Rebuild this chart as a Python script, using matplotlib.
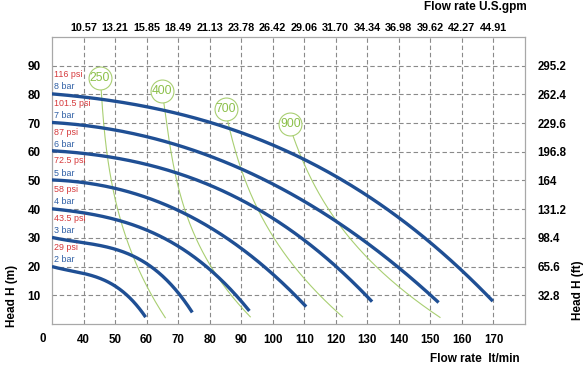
import numpy as np
import matplotlib
matplotlib.use("Agg")
import matplotlib.pyplot as plt

plt.rcParams['font.family'] = ['Liberation Sans', 'DejaVu Sans']

# Curvas de presión (flujo l/min, altura m)
bar_labels = ['2 bar', '3 bar', '4 bar', '5 bar', '6 bar', '7 bar', '8 bar']
psi_labels = ['29 psi', '43.5 psi', '58 psi', '72.5 psi', '87 psi', '101.5 psi', '116 psi']
start_head = [20, 30, 40, 50, 60, 70, 80]

q_2bar = [30, 40, 50, 55, 59.7]
h_2bar = [20, 17.7, 13, 9, 2.3]
q_3bar = [30, 40, 50, 60, 70, 74.5]
h_3bar = [30, 28.8, 25.8, 20.5, 12, 3.4]
q_4bar = [30, 40, 50, 60, 70, 80, 90, 92.6]
h_4bar = [40, 39, 36.5, 32.5, 27, 19, 9, 3.7]
q_5bar = [30, 40, 50, 60, 70, 80, 90, 100, 110.6]
h_5bar = [50, 49.5, 47.5, 44, 39.3, 33.5, 26.5, 17.8, 5.8]
q_6bar = [30, 40, 50, 60, 70, 80, 90, 100, 110, 120, 131.5]
h_6bar = [60, 59.7, 58.3, 55.8, 52.3, 48, 42.8, 36.7, 29.5, 21, 7.2]
q_7bar = [30, 40, 50, 60, 70, 80, 90, 100, 110, 120, 130, 140, 152.6]
h_7bar = [70, 69.3, 67.8, 65.5, 62.3, 58.4, 53.8, 48.5, 42.6, 36, 28.5, 19.8, 7.2]
q_8bar = [30, 40, 50, 60, 70, 80, 90, 100, 110, 120, 130, 140, 150, 160, 169.8]
h_8bar = [80, 79.2, 77.8, 75.8, 73.2, 70.2, 66.6, 62.3, 57.3, 51.5, 44.8, 37, 28.3, 18.8, 7.8]

# Curvas de consumo de aire (verde)
air_labels = ['250', '400', '700', '900']
air_label_pos = [(45.2, 85.7), (64.9, 81.2), (85.2, 74.9), (105.6, 69.7)]
q_250 = [45.6, 47.2, 49.5, 53.5, 60, 65.9]
h_250 = [81.5, 62, 46, 30, 13.5, 2.2]
q_400 = [65.3, 67.8, 70.1, 75.5, 80, 84.4, 92.9]
h_400 = [78, 61, 46.5, 30, 21.5, 13.2, 2.5]
q_700 = [85.5, 88, 90.2, 93, 96.5, 100.3, 107.7, 113, 122]
h_700 = [71, 62, 53.7, 45, 37, 29.9, 19, 12.5, 2.5]
q_900 = [106.1, 109.8, 114.5, 119, 124.6, 130, 135.2, 140.3, 146, 153]
h_900 = [66, 57, 46, 37.5, 29.3, 23, 17.7, 13.2, 7.5, 2.3]

# Ejes
x_ticks = [40, 50, 60, 70, 80, 90, 100, 110, 120, 130, 140, 150, 160, 170]
gpm_labels = ['10.57', '13.21', '15.85', '18.49', '21.13', '23.78', '26.42',
              '29.06', '31.70', '34.34', '36.98', '39.62', '42.27', '44.91']
y_ticks = [10, 20, 30, 40, 50, 60, 70, 80, 90]
ft_labels = ['32.8', '65.6', '98.4', '131.2', '164', '196.8', '229.6', '262.4', '295.2']

blue = '#1f4f94'
green = '#a9cf72'
green_txt = '#8cc04a'
red = '#d6393b'
lbl_blue = '#2f5fa5'


def suave_h(q, h, grado=3):
    # curva suave H(Q) ajustada a los puntos leídos
    c = np.polyfit(q, h, grado)
    qq = np.linspace(q[0], q[-1], 200)
    return qq, np.polyval(c, qq)


def suave_q(q, h, grado=3):
    # las verdes son casi verticales arriba: Q en función de H
    c = np.polyfit(h, q, grado)
    hh = np.linspace(h[0], h[-1], 200)
    return np.polyval(c, hh), hh


fig = plt.figure(figsize=(5.86, 3.68), dpi=100)
ax = fig.add_axes([0.0887, 0.1196, 0.8072, 0.7799])
ax.set_xlim(30, 180)
ax.set_ylim(0, 100)

ax.grid(True, color='#8a8a8a', linestyle=(0, (4, 2.5)), linewidth=0.8)
ax.set_axisbelow(True)
for s in ax.spines.values():
    s.set_color('#a8a8a8')
    s.set_linewidth(0.9)

# Curvas verdes
for q, h in [(q_250, h_250), (q_400, h_400), (q_700, h_700), (q_900, h_900)]:
    ax.plot(*suave_q(q, h), color=green, linewidth=0.8, zorder=2)
for (x, y), t in zip(air_label_pos, air_labels):
    ax.plot(x, y, 'o', markersize=16.5, markerfacecolor='white',
            markeredgecolor=green, markeredgewidth=0.8, zorder=3)
    ax.text(x, y, t, color=green_txt, fontsize=8.7, ha='center', va='center', zorder=4)

# Curvas azules
curves = [(q_2bar, h_2bar), (q_3bar, h_3bar), (q_4bar, h_4bar), (q_5bar, h_5bar),
          (q_6bar, h_6bar), (q_7bar, h_7bar), (q_8bar, h_8bar)]
for q, h in curves:
    ax.plot(*suave_h(q, h), color=blue, linewidth=2.4, solid_capstyle='butt', zorder=5)

for h0, b, p in zip(start_head, bar_labels, psi_labels):
    ax.text(30.6, h0 + 6.8, p, color=red, fontsize=6.4, ha='left', va='center', zorder=6)
    ax.text(30.6, h0 + 2.6, b, color=lbl_blue, fontsize=6.4, ha='left', va='center', zorder=6)

# Ticks
ax.set_xticks(x_ticks)
ax.set_xticklabels([str(v) for v in x_ticks], fontsize=8.3, fontweight='bold')
ax.set_yticks(y_ticks)
ax.set_yticklabels([str(v) for v in y_ticks], fontsize=8.5, fontweight='bold')
ax.tick_params(axis='both', length=0)
ax.tick_params(axis='x', pad=7.5)
ax.tick_params(axis='y', pad=8)
ax.text(-0.02, -0.054, '0', transform=ax.transAxes, fontsize=8.3, fontweight='bold',
        ha='center', va='center')

top = ax.secondary_xaxis('top')
top.set_xticks(x_ticks)
top.set_xticklabels(gpm_labels, fontsize=7.8, fontweight='bold')
top.tick_params(length=0, pad=3)
top.spines['top'].set_visible(False)

right = ax.secondary_yaxis('right')
right.set_yticks(y_ticks)
right.set_yticklabels(ft_labels, fontsize=8.3, fontweight='bold')
right.tick_params(length=0, pad=9)
right.spines['right'].set_visible(False)

fig.text(475 / 586, 1 - 7 / 368, 'Flow rate U.S.gpm', fontsize=8.5, fontweight='bold',
         ha='center', va='center')
fig.text(475 / 586, 1 - 359 / 368, 'Flow rate  lt/min', fontsize=8.5, fontweight='bold',
         ha='center', va='center')
fig.text(12 / 586, 1 - 296 / 368, 'Head H (m)', fontsize=8.5, fontweight='bold',
         rotation=90, ha='center', va='center')
fig.text(578 / 586, 1 - 290 / 368, 'Head H (ft)', fontsize=8.5, fontweight='bold',
         rotation=90, ha='center', va='center')

fig.savefig('out.png', dpi=100)
